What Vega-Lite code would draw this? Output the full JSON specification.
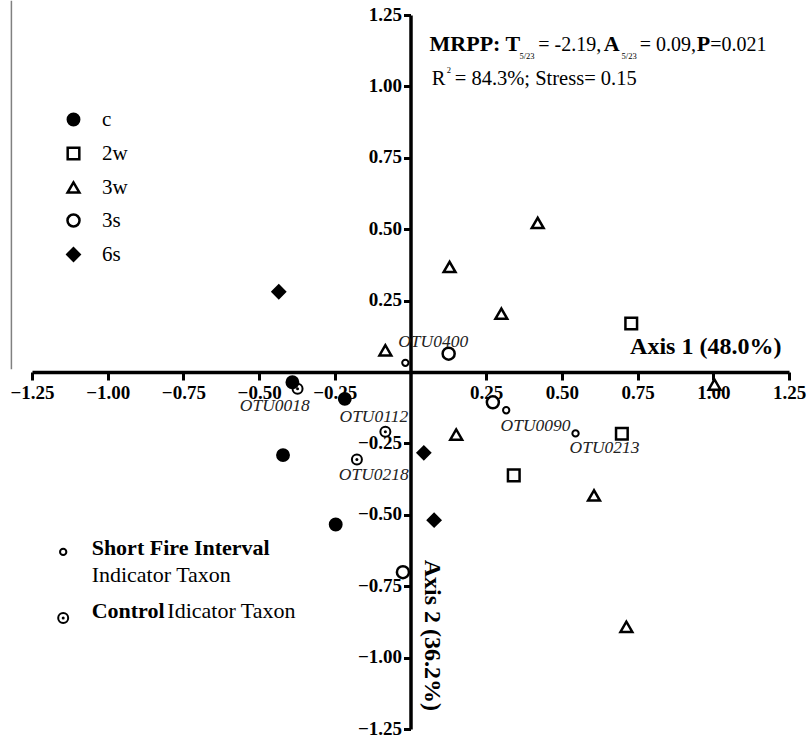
{
  "$schema": "https://vega.github.io/schema/vega-lite/v6.json",
  "width": 757,
  "height": 714,
  "autosize": {"type": "none"},
  "padding": {"left": 32, "top": 15, "right": 19, "bottom": 6},
  "background": "white",
  "config": {"view": {"stroke": null}, "font": "Liberation Serif"},
  "datasets": {
    "frame": [{"x": -1.318, "y": 1.30, "y2": 0.01}],
    "groups": [
      {"x": -0.390, "y": -0.036, "group": "c"},
      {"x": -0.217, "y": -0.094, "group": "c"},
      {"x": -0.421, "y": -0.291, "group": "c"},
      {"x": -0.247, "y": -0.534, "group": "c"},
      {"x": 0.729, "y": 0.170, "group": "2w"},
      {"x": 0.698, "y": -0.216, "group": "2w"},
      {"x": 0.341, "y": -0.362, "group": "2w"},
      {"x": -0.083, "y": 0.076, "group": "3w"},
      {"x": 0.129, "y": 0.368, "group": "3w"},
      {"x": 0.300, "y": 0.204, "group": "3w"},
      {"x": 0.420, "y": 0.522, "group": "3w"},
      {"x": 1.004, "y": -0.044, "group": "3w"},
      {"x": 0.151, "y": -0.219, "group": "3w"},
      {"x": 0.606, "y": -0.432, "group": "3w"},
      {"x": 0.713, "y": -0.892, "group": "3w"},
      {"x": 0.126, "y": 0.064, "group": "3s"},
      {"x": 0.272, "y": -0.106, "group": "3s"},
      {"x": -0.025, "y": -0.701, "group": "3s"},
      {"x": -0.435, "y": 0.281, "group": "6s"},
      {"x": 0.044, "y": -0.283, "group": "6s"},
      {"x": 0.078, "y": -0.519, "group": "6s"}
    ],
    "sfi": [
      {"x": -0.017, "y": 0.032, "otu": "OTU0400"},
      {"x": 0.316, "y": -0.134, "otu": "OTU0090"},
      {"x": 0.545, "y": -0.215, "otu": "OTU0213"},
      {"x": -1.147, "y": -0.630, "otu": "key"}
    ],
    "ctrl": [
      {"x": -0.373, "y": -0.059, "otu": "OTU0018"},
      {"x": -0.083, "y": -0.209, "otu": "OTU0112"},
      {"x": -0.177, "y": -0.306, "otu": "OTU0218"},
      {"x": -1.147, "y": -0.861, "otu": "key"}
    ],
    "otuLabels": [
      {"x": 0.075, "y": 0.106, "text": "OTU0400"},
      {"x": -0.448, "y": -0.120, "text": "OTU0018"},
      {"x": -0.121, "y": -0.159, "text": "OTU0112"},
      {"x": -0.121, "y": -0.362, "text": "OTU0218"},
      {"x": 0.413, "y": -0.190, "text": "OTU0090"},
      {"x": 0.641, "y": -0.265, "text": "OTU0213"}
    ],
    "boldNotes": [
      {"x": 0.063, "y": 1.123, "text": "MRPP: T"},
      {"x": 0.638, "y": 1.123, "text": "A"},
      {"x": 0.945, "y": 1.123, "text": "P"},
      {"x": -1.053, "y": -0.640, "text": "Short Fire Interval"},
      {"x": -1.053, "y": -0.861, "text": "Control"}
    ],
    "line1Notes": [
      {"x": 0.422, "y": 1.123, "text": "= -2.19,"},
      {"x": 0.757, "y": 1.123, "text": "= 0.09,"},
      {"x": 0.990, "y": 1.123, "text": "=0.021"}
    ],
    "plainNotes": [
      {"x": -1.053, "y": -0.737, "text": "Indicator Taxon"},
      {"x": -0.803, "y": -0.861, "text": "Idicator Taxon"}
    ],
    "line2Notes": [
      {"x": 0.070, "y": 1.006, "text": "R"},
      {"x": 0.146, "y": 1.006, "text": "= 84.3%; Stress= 0.15"}
    ],
    "smallNotes": [
      {"x": 0.360, "y": 1.097, "text": "5/23"},
      {"x": 0.697, "y": 1.097, "text": "5/23"},
      {"x": 0.1195, "y": 1.047, "text": "2"}
    ],
    "axisTitle1": [{"x": 1.225, "y": 0.089, "text": "Axis 1 (48.0%)"}],
    "axisTitle2": [{"x": 0.070, "y": -0.657, "text": "Axis 2 (36.2%)"}]
  },
  "encoding": {
    "x": {
      "field": "x", "type": "quantitative",
      "scale": {"domain": [-1.25, 1.25], "nice": false, "zero": false},
      "axis": {
        "orient": "bottom", "offset": -357, "title": null, "grid": false,
        "values": [-1.25, -1, -0.75, -0.5, -0.25, 0.25, 0.5, 0.75, 1, 1.25],
        "format": ".2f", "domainColor": "black", "domainWidth": 3.5,
        "tickColor": "black", "tickWidth": 3, "tickSize": 8,
        "labelFont": "Liberation Serif", "labelFontWeight": "bold", "labelFontSize": 19,
        "labelColor": "black", "labelPadding": 3, "labelFlush": false, "labelOverlap": false
      }
    },
    "y": {
      "field": "y", "type": "quantitative",
      "scale": {"domain": [-1.25, 1.25], "nice": false, "zero": false},
      "axis": {
        "orient": "left", "offset": -378.5, "title": null, "grid": false,
        "values": [-1.25, -1, -0.75, -0.5, -0.25, 0.25, 0.5, 0.75, 1, 1.25],
        "format": ".2f", "domainColor": "black", "domainWidth": 3.5,
        "tickColor": "black", "tickWidth": 3, "tickSize": 7,
        "labelFont": "Liberation Serif", "labelFontWeight": "bold", "labelFontSize": 19,
        "labelColor": "black", "labelPadding": 2, "labelOffset": -1, "labelFlush": false, "labelOverlap": false
      }
    }
  },
  "layer": [
    {
      "data": {"name": "frame"},
      "mark": {"type": "rule", "color": "#808080", "strokeWidth": 1.5},
      "encoding": {"y2": {"field": "y2"}}
    },
    {
      "data": {"name": "groups"},
      "mark": {"type": "point", "filled": true, "stroke": "black", "strokeWidth": 2.5, "opacity": 1},
      "encoding": {
        "shape": {
          "field": "group", "type": "ordinal",
          "scale": {"domain": ["c", "2w", "3w", "3s", "6s"], "range": ["circle", "square", "triangle-up", "circle", "diamond"]},
          "legend": {
            "title": null, "orient": "none", "legendX": 31, "legendY": 94, "padding": 0,
            "labelFont": "Liberation Serif", "labelFontSize": 21, "labelColor": "black",
            "labelOffset": 18, "rowPadding": 11, "symbolStrokeColor": "black", "symbolStrokeWidth": 2.5
          }
        },
        "fill": {
          "field": "group", "type": "ordinal",
          "scale": {"domain": ["c", "2w", "3w", "3s", "6s"], "range": ["black", "white", "white", "white", "black"]}
        },
        "size": {
          "field": "group", "type": "ordinal",
          "scale": {"domain": ["c", "2w", "3w", "3s", "6s"], "range": [130, 150, 120, 60, 170]}
        }
      }
    },
    {
      "data": {"name": "sfi"},
      "mark": {"type": "point", "shape": "circle", "filled": false, "stroke": "black", "strokeWidth": 2, "size": 40, "opacity": 1}
    },
    {
      "data": {"name": "ctrl"},
      "mark": {"type": "point", "shape": "circle", "filled": false, "stroke": "black", "strokeWidth": 2, "size": 100, "opacity": 1}
    },
    {
      "data": {"name": "ctrl"},
      "mark": {"type": "point", "shape": "circle", "filled": true, "color": "black", "size": 9, "opacity": 1}
    },
    {
      "data": {"name": "otuLabels"},
      "mark": {"type": "text", "font": "Liberation Serif", "fontStyle": "italic", "fontSize": 17.5, "color": "#222", "align": "center", "baseline": "middle"},
      "encoding": {"text": {"field": "text"}}
    },
    {
      "data": {"name": "boldNotes"},
      "mark": {"type": "text", "font": "Liberation Serif", "fontWeight": "bold", "fontSize": 22, "color": "black", "align": "left", "baseline": "alphabetic"},
      "encoding": {"text": {"field": "text"}}
    },
    {
      "data": {"name": "line1Notes"},
      "mark": {"type": "text", "font": "Liberation Serif", "fontSize": 20, "color": "black", "align": "left", "baseline": "alphabetic"},
      "encoding": {"text": {"field": "text"}}
    },
    {
      "data": {"name": "plainNotes"},
      "mark": {"type": "text", "font": "Liberation Serif", "fontSize": 22, "color": "black", "align": "left", "baseline": "alphabetic"},
      "encoding": {"text": {"field": "text"}}
    },
    {
      "data": {"name": "line2Notes"},
      "mark": {"type": "text", "font": "Liberation Serif", "fontSize": 20.5, "color": "black", "align": "left", "baseline": "alphabetic"},
      "encoding": {"text": {"field": "text"}}
    },
    {
      "data": {"name": "smallNotes"},
      "mark": {"type": "text", "font": "Liberation Serif", "fontSize": 8.5, "color": "black", "align": "left", "baseline": "alphabetic"},
      "encoding": {"text": {"field": "text"}}
    },
    {
      "data": {"name": "axisTitle1"},
      "mark": {"type": "text", "font": "Liberation Serif", "fontWeight": "bold", "fontSize": 24, "color": "black", "align": "right", "baseline": "middle"},
      "encoding": {"text": {"field": "text"}}
    },
    {
      "data": {"name": "axisTitle2"},
      "mark": {"type": "text", "font": "Liberation Serif", "fontWeight": "bold", "fontSize": 24, "color": "black", "align": "left", "baseline": "middle", "angle": 90},
      "encoding": {"text": {"field": "text"}}
    }
  ]
}
